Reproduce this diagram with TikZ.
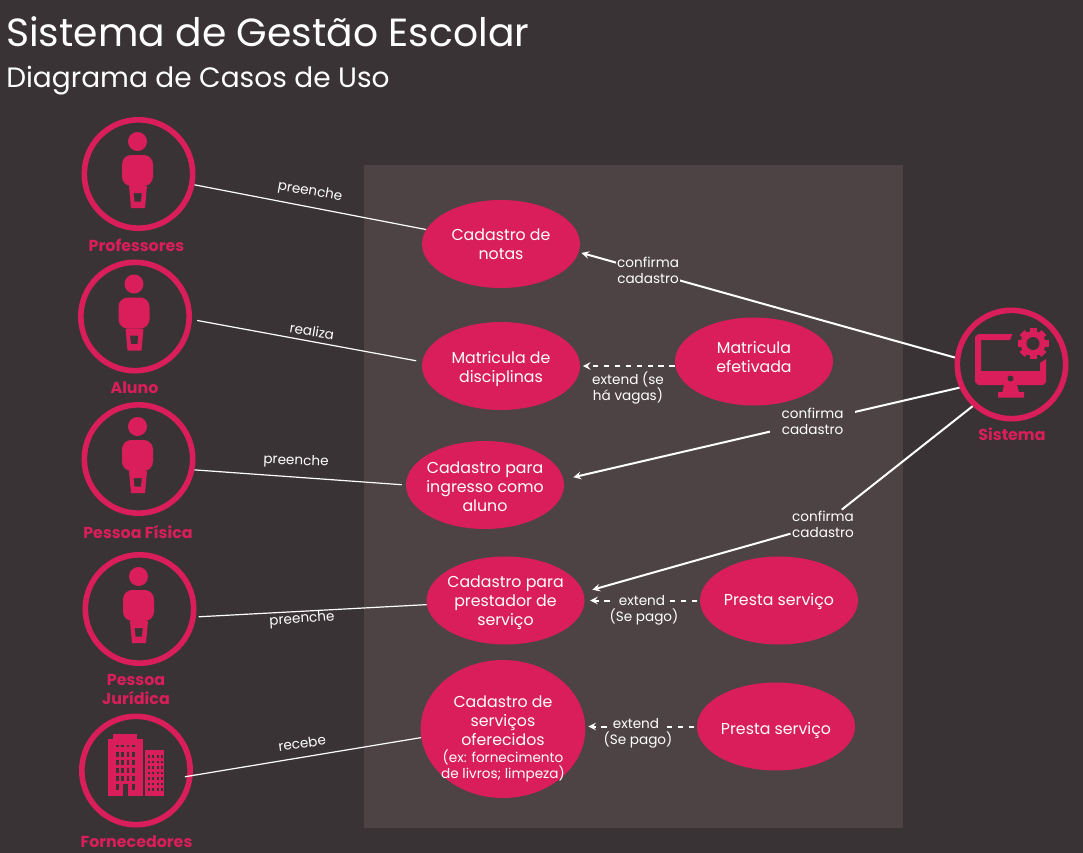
\documentclass[tikz,border=0pt]{standalone}
\usepackage{fontspec}
\setmainfont{Poppins}
\usetikzlibrary{shapes.geometric}
\definecolor{fundo}{HTML}{3A3335}
\definecolor{painel}{HTML}{4D4345}
\definecolor{rosa}{HTML}{D91E5B}
\newcommand{\tam}[1]{\fontsize{#1}{#1}\selectfont}
\newcommand{\peq}{\fontsize{10.2}{12}\selectfont}
\tikzset{
  caso/.style={ellipse,fill=rosa,text=white,minimum width=118.5pt,minimum height=66pt,inner sep=-14pt,align=center,font=\fontsize{11.85}{14.25}\selectfont},
  alto/.style={text height=#1pt,text depth=0pt},
  ator/.style={circle,draw=rosa,line width=4.2pt,minimum size=81.3pt,inner sep=0pt},
  nomeator/.style={text=rosa,font=\fontsize{11.9}{14}\selectfont\bfseries,align=center,inner sep=0pt},
  linha/.style={draw=white,line width=0.9pt},
  seta/.style={draw=white,line width=1.5pt,-stealth},
  estendido/.style={draw=white,line width=1.5pt,-stealth,dash pattern=on 4pt off 4.2pt},
  rotulo/.style={text=white,font=\peq,align=center,inner sep=1pt},
  pessoaicon/.pic={
    \fill[rosa] (-1,-32.5) circle (9.5);
    \fill[rosa,rounded corners=7pt] (-16.5,-19)--(14.5,-19)--(14.5,12)--(-16.5,12)--cycle;
    \fill[rosa,even odd rule] (-9.5,12)--(8.5,12)--(6.5,34)--(-7.5,34)--cycle
      (-5,19)--(3.3,19)--(2.5,27.5)--(-4,27.5)--cycle;
  }
}
\begin{document}
\begin{tikzpicture}[x=0.75pt,y=-0.75pt]
\fill[fundo] (0,0) rectangle (1083,853);
\useasboundingbox (0,0) rectangle (1083,853);
\fill[painel] (364,165) rectangle (903,828);

\node[text=white,anchor=base west,inner sep=0pt,font=\tam{29.45}] (titulo) at (6,46) {Sistema de Gestão Escolar};
\node[text=white,anchor=base west,inner sep=0pt,font=\tam{21}] (subtitulo) at (6,87) {Diagrama de Casos de Uso};

% atores
\node[ator] (professores) at (138.5,174) {};
\node[ator] (aluno) at (135,316.5) {};
\node[ator] (fisica) at (138.5,459) {};
\node[ator] (juridica) at (139.5,609) {};
\node[ator] (fornecedores) at (136,770.5) {};
\node[ator] (sistema) at (1011.5,364.5) {};

\pic at (professores) {pessoaicon};
\pic at (aluno) {pessoaicon};
\pic at (fisica) {pessoaicon};
\pic at (juridica) {pessoaicon};

\node[nomeator] (nprofessores) at (136.5,245.5) {Professores};
\node[nomeator] (naluno) at (134.5,387.5) {Aluno};
\node[nomeator] (nfisica) at (138,532) {Pessoa Física};
\node[nomeator] (njuridica) at (136,689.5) {Pessoa\\Jurídica};
\node[nomeator] (nfornecedores) at (136.5,842) {Fornecedores};
\node[nomeator] (nsistema) at (1012,434.5) {Sistema};

% predio
\fill[rosa] (108,739) rectangle (142.7,796);
\fill[rosa] (113.3,734) rectangle (137.3,739);
\fill[rosa] (145.3,750) rectangle (164,796);
\foreach \cx in {116,121.3,126.7,132}
  \fill[fundo] (\cx,745) rectangle ++(2.6,2.4);
\foreach \ly in {751.7,759.7,767.7,775.7}
  \foreach \cx in {116,121.3,126.7,132}
    \fill[fundo] (\cx,\ly) rectangle ++(2.6,5.3);
\foreach \cx in {116,132}
  \fill[fundo] (\cx,783.7) rectangle ++(2.6,6);
\fill[fundo] (122.7,783.7) rectangle (127.7,796);
\foreach \ly in {755,760.5,766,771.5,777,782.5,788}
  \foreach \cx in {147.5,152,157,161}
    \fill[fundo] (\cx,\ly) rectangle ++(2,2.5);

% monitor
\fill[rosa] (1012.5,334)--(978,334)--(975,337)--(975,382)--(978,385)--(1043,385)--(1046,382)--(1046,359)--(1040,363)--(1040,371)--(981,371)--(981,340)--(1010,340)--cycle;
\fill[rosa] (1004,385)--(1017,385)--(1019,392)--(1024,392)--(1024,397.5)--(998,397.5)--(998,392)--(1002.5,392)--cycle;
\fill[fundo] (1010.5,378.5) circle (3);
\foreach \ang in {0,45,...,315}
  \fill[rosa,rotate around={\ang:(1033,343.5)}] (1029.5,343.5)--(1029.5,328)--(1036.5,328)--(1036.5,343.5)--cycle;
\fill[rosa] (1033,343.5) circle (12.5);
\fill[fundo] (1033,343.5) circle (6.5);

% casos
\node[caso,alto=23.25] (notas) at (501,244) {Cadastro de\\notas};
\node[caso,alto=24.75] (disciplinas) at (501,366) {Matricula de\\disciplinas};
\node[caso,alto=16.5] (efetivada) at (754,361.5) {Matricula\\efetivada};
\node[caso,alto=39.75] (ingresso) at (485,485) {Cadastro para\\ingresso como\\aluno};
\node[caso,alto=37.5] (prestador) at (505.5,600.5) {Cadastro para\\prestador de\\serviço};
\node[caso,alto=7.5] (servico) at (779,600.5) {Presta serviço};
\node[caso,alto=74.25,inner sep=-30pt,minimum width=123.5pt,minimum height=103.5pt] (oferecidos) at (503,729) {Cadastro de\\serviços\\oferecidos\\[-1.2pt]\peq (ex: fornecimento\\[-2.2pt]\peq de livros; limpeza)};
\node[caso,alto=12] (servicob) at (776,726.5) {Presta serviço};

% ligacoes atores
\draw[linha] (professores) -- (notas);
\draw[linha,shorten <=4pt,shorten >=4.5pt] (aluno.-3) -- (disciplinas.177);
\draw[linha,shorten >=3pt] (fisica.-11) -- (ingresso.west);
\draw[linha,shorten <=2pt] (juridica.-8) -- (prestador.183);
\draw[linha,shorten <=-6pt] (fornecedores.-5) -- (oferecidos.186);

\node[rotulo,rotate=-10] (lpreenche) at (310,192) {preenche};
\node[rotulo,rotate=-9] (lrealiza) at (312,331) {realiza};
\node[rotulo,rotate=-2] (lpreencheb) at (296,461.5) {preenche};
\node[rotulo,rotate=4] (lpreenchec) at (302,619.5) {preenche};
\node[rotulo,rotate=8] (lrecebe) at (302,743) {recebe};

% ligacoes sistema
\draw[seta,shorten >=2pt] (sistema.173) -- node[rotulo,pos=0.816,fill=painel,yshift=0.75pt] (lconfirmaa) {confirma\\cadastro} (notas.-6);
\draw[seta,shorten >=7.5pt] (sistema.204) -- node[rotulo,pos=0.371,fill=painel,inner xsep=9pt] (lconfirmab) {confirma\\cadastro} (ingresso.4);
\node[rotulo,fill=painel] (lconfirmac) at (823,524.5) {confirma\\cadastro};
\draw[seta,-] (sistema.227) -- (lconfirmac);
\draw[seta,shorten >=7pt] (lconfirmac) -- (prestador.6);

% extends
\draw[estendido,shorten >=2pt] (efetivada.west |- disciplinas.east) -- (disciplinas.east);
\node[rotulo] (lvagas) at (628,388) {extend (se\\há vagas)};
\draw[estendido,shorten >=4pt,shorten <=2pt] (servico.west) -- (prestador.east);
\node[rotulo,fill=painel,inner xsep=4pt] (lpago) at (642,601) {extend};
\node[rotulo] (lpagoc) at (644,617) {(Se pago)};
\draw[estendido,shorten >=2pt,shorten <=2pt] (servicob.west) -- (servicob.west -| oferecidos.east);
\node[rotulo,fill=painel,inner xsep=4pt] (lpagob) at (636,724) {extend};
\node[rotulo] (lpagod) at (638,740) {(Se pago)};
\end{tikzpicture}
\end{document}
